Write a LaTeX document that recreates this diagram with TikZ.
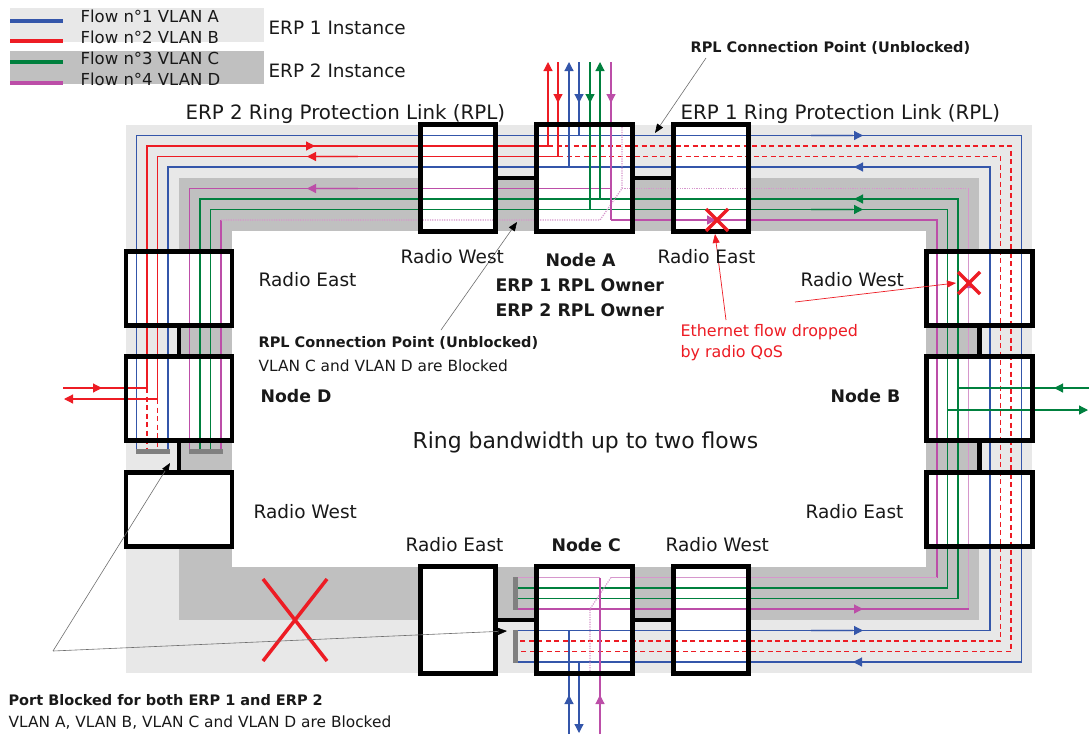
\documentclass[tikz,border=0pt]{standalone}
\usepackage{fontspec}
\setmainfont{DejaVu Sans}
\usetikzlibrary{arrows.meta}
\definecolor{flowblue}{RGB}{52,86,170}
\definecolor{flowred}{RGB}{237,28,36}
\definecolor{flowgreen}{RGB}{0,128,62}
\definecolor{flowmag}{RGB}{188,78,168}
\definecolor{flowpink}{RGB}{214,150,204}
\definecolor{erpone}{RGB}{232,232,232}
\definecolor{erptwo}{RGB}{192,192,192}
\definecolor{portgray}{RGB}{128,128,128}
\definecolor{notegray}{RGB}{110,110,110}
\definecolor{ink}{RGB}{25,25,25}

\begin{document}
\begin{tikzpicture}[x=1pt,y=-1pt,line width=1.2pt,
  ringbox/.style 2 args={fill=white,inner sep=0pt,minimum width=#1,minimum height=#2},
  boxedge/.style={draw=black,line width=4.5pt},
  linkbar/.style={draw=black,line width=4.5pt},
  head/.style={-{Triangle[length=9pt,width=9pt]}},
  tail/.style={line width=2.2pt,opacity=.2},
  dashedred/.style={flowred,dash pattern=on 5pt off 3.5pt},
  dotpink/.style={flowpink,dash pattern=on 1.2pt off 1.2pt},
  notearrow/.style={notegray,line width=.6pt,-{Triangle[length=9pt,width=7pt,color=black]}},
  droparrow/.style={flowred,line width=.7pt,-{Triangle[length=9pt,width=7pt]}},
  redx/.style={flowred,line width=3.5pt},
  txt/.style={anchor=base west,inner sep=0pt,text=ink,font=\fontsize{#1}{#1}\selectfont},
  btxt/.style={anchor=base west,inner sep=0pt,text=ink,font=\fontsize{#1}{#1}\selectfont\bfseries}]
  \useasboundingbox (0,0) rectangle (1089,734);

  % legend
  \fill[erpone] (10,8) rectangle (264,42);
  \fill[erptwo] (10,51) rectangle (264,84);
  \draw[flowblue,line width=4pt] (10,20.5) -- (63,20.5);
  \draw[flowred,line width=4pt] (10,41) -- (63,41);
  \draw[flowgreen,line width=4pt] (10,62) -- (63,62);
  \draw[flowmag,line width=4pt] (10,83) -- (63,83);
  \node[txt=16.5] (legA) at (80,22) {Flow n°1 VLAN A};
  \node[txt=16.5] (legB) at (80,43) {Flow n°2 VLAN B};
  \node[txt=16.5] (legC) at (80,64) {Flow n°3 VLAN C};
  \node[txt=16.5] (legD) at (80,85) {Flow n°4 VLAN D};
  \node[txt=18.4] (inst1) at (268,34.7) {ERP 1 Instance};
  \node[txt=18.4] (inst2) at (268,77.7) {ERP 2 Instance};

  % ring bands
  \fill[erpone] (126,125) rectangle (1032,672.5);
  \fill[erptwo] (179,178) rectangle (979,619.5);
  \fill[white] (232,231) rectangle (926,566.5);

  % boxes
  \node[ringbox={73.5pt}{105.5pt}] (rwTop) at (458,178) {};
  \node[ringbox={94.5pt}{105.5pt}] (nodeA) at (584.5,178) {};
  \node[ringbox={73.5pt}{105.5pt}] (reTop) at (711,178) {};
  \node[ringbox={73.5pt}{105.5pt}] (reBot) at (458,620) {};
  \node[ringbox={94.5pt}{105.5pt}] (nodeC) at (584.5,620) {};
  \node[ringbox={73.5pt}{105.5pt}] (rwBot) at (711,620) {};
  \node[ringbox={104.5pt}{72.5pt}] (reLeft) at (179,288.5) {};
  \node[ringbox={104.5pt}{82.5pt}] (nodeD) at (179,398.5) {};
  \node[ringbox={104.5pt}{72.5pt}] (rwLeft) at (179,509.5) {};
  \node[ringbox={104.5pt}{72.5pt}] (rwRight) at (979.5,288.5) {};
  \node[ringbox={104.5pt}{82.5pt}] (nodeB) at (979.5,398.5) {};
  \node[ringbox={104.5pt}{72.5pt}] (reRight) at (979.5,509.5) {};
  \draw[linkbar] (rwTop.east) -- (nodeA.west);
  \draw[linkbar] (nodeA.east) -- (reTop.west);
  \draw[linkbar] (reBot.east) -- (nodeC.west);
  \draw[linkbar] (nodeC.east) -- (rwBot.west);
  \draw[linkbar] (reLeft.south) -- (nodeD.north);
  \draw[linkbar] (nodeD.south) -- (rwLeft.north);
  \draw[linkbar] (rwRight.south) -- (nodeB.north);
  \draw[linkbar] (nodeB.south) -- (reRight.north);

  % blocked ports
  \fill[portgray] (136,449) rectangle (169.5,453.5);
  \fill[portgray] (189,449) rectangle (222.5,453.5);
  \fill[portgray] (513,577) rectangle (518,609.5);
  \fill[portgray] (513,630) rectangle (518,662.5);

  % ERP 1 ring, flows 1 and 2
  \draw[flowblue] (136.5,449) |- (1021.5,135.5) |- (518,662);
  \draw[flowblue] (168,449) |- (990,167) |- (518,630.5);
  \draw[flowred] (147,388) |- (548,146);
  \draw[dashedred] (548,146) -| (1011,651.5) -- (518,651.5);
  \draw[dashedred] (147,388) -- (147,449);
  \draw[flowred] (157.5,399) |- (558,156.5);
  \draw[dashedred] (558,156.5) -| (1000.5,641) -- (518,641);
  \draw[dashedred] (157.5,399) -- (157.5,449);

  % ERP 2 ring, flows 3 and 4
  \draw[flowgreen] (200,449) |- (958,199) |- (518,598.5);
  \draw[flowgreen] (210.5,449) |- (947.5,209.5) |- (518,588);
  \draw[flowmag] (189.5,449) |- (611,188.5);
  \draw[dotpink] (622,188.5) -- (968.5,188.5);
  \draw[flowpink] (968.5,188.5) -- (968.5,609);
  \draw[flowmag] (968.5,609) -- (518,609);
  \draw[flowmag] (221,449) -- (221,220);
  \draw[dotpink] (221,220) -- (600,220) -- (622,188.5) -- (622,127);
  \draw[flowmag] (611,220) -| (937,577.5);
  \draw[flowpink] (937,577.5) -- (611,577.5);
  \draw[flowpink] (600,577.5) -- (518,577.5);
  \draw[dotpink] (611,577.5) -- (590,609) -- (590,672);

  % drops and adds at the nodes
  \draw[flowred,head] (548,146) -- (548,62);
  \draw[flowred] (558,62) -- (558,156.5);
  \draw[flowblue,head] (569,167) -- (569,62);
  \draw[flowblue] (579,62) -- (579,135.5);
  \draw[flowgreen] (590,62) -- (590,209.5);
  \draw[flowgreen,head] (600,199) -- (600,62);
  \draw[flowmag] (611,62) -- (611,220);
  \draw[flowblue] (569,734) -- (569,630.5);
  \draw[flowblue,head] (579,662) -- (579,733);
  \draw[flowmag] (600,734) -- (600,577.5);
  \draw[flowred] (147,388) -- (63,388);
  \draw[flowred,head] (157.5,399) -- (64,399);
  \draw[flowgreen] (958,388) -- (1089,388);
  \draw[flowgreen,head] (947.5,410) -- (1088,410);

  \foreach \b in {rwTop,nodeA,reTop,reBot,nodeC,rwBot,reLeft,nodeD,rwLeft,rwRight,nodeB,reRight}
    \draw[boxedge] (\b.north west) rectangle (\b.south east);

  % flow direction
  \draw[flowred,tail] (263,146) -- (306,146);
  \draw[flowred,tail] (316,156.5) -- (358,156.5);
  \draw[flowmag,tail] (316,188.5) -- (358,188.5);
  \draw[flowblue,tail] (811,135.5) -- (853,135.5);
  \draw[flowblue,tail] (863,167) -- (906,167);
  \draw[flowgreen,tail] (863,199) -- (906,199);
  \draw[flowgreen,tail] (811,209.5) -- (853,209.5);
  \draw[flowmag,tail] (811,609) -- (853,609);
  \draw[flowblue,tail] (811,630.5) -- (853,630.5);
  \draw[flowblue,tail] (862,662) -- (905,662);
  \draw[flowred,tail] (63,388) -- (93,388);
  \draw[flowgreen,tail] (1063,388) -- (1089,388);
  \draw[flowgreen,tail] (1040,410) -- (1079,410);
  \draw[flowred,head] (314,146) -- (315,146);
  \draw[flowred,head] (308,156.5) -- (307,156.5);
  \draw[flowmag,head] (308,188.5) -- (307,188.5);
  \draw[flowblue,head] (862,135.5) -- (863,135.5);
  \draw[flowblue,head] (855,167) -- (854,167);
  \draw[flowgreen,head] (855,199) -- (854,199);
  \draw[flowgreen,head] (862,209.5) -- (863,209.5);
  \draw[flowmag,head] (862,609) -- (863,609);
  \draw[flowblue,head] (862,630.5) -- (863,630.5);
  \draw[flowblue,head] (854,662) -- (853,662);
  \draw[flowred,head] (558,102) -- (558,103);
  \draw[flowblue,head] (579,102) -- (579,103);
  \draw[flowgreen,head] (590,102) -- (590,103);
  \draw[flowmag,head] (611,102) -- (611,103);
  \draw[flowblue,head] (569,696) -- (569,695);
  \draw[flowmag,head] (600,696) -- (600,695);
  \draw[flowred,head] (101,388) -- (102,388);
  \draw[flowgreen,head] (1055,388) -- (1054,388);
  \draw[flowmag,head] (715,220) -- (716,220);
  \draw[flowmag,head] (968.5,280) -- (968.5,279);

  % dropped by QoS and blocked
  \draw[redx] (706,209) -- (728,231) (706,231) -- (728,209);
  \draw[redx] (958,272) -- (980,294) (958,294) -- (980,272);
  \draw[redx] (263,579) -- (327,661) (263,661) -- (327,579);
  \coordinate (dropnote) at (726,320);
  \draw[droparrow] (dropnote) -- (715,234);
  \draw[droparrow] (795,302) -- (956,283);

  % notes
  \coordinate (portnote) at (53,651);
  \draw[notearrow] (706,58) -- (655,133);
  \draw[notearrow] (441,330) -- (517,222);
  \draw[notearrow] (portnote) -- (170,463);
  \draw[notearrow] (portnote) -- (507,631);

  % labels
  \node[txt=19.8] (rplTwo) at (185,119) {ERP 2 Ring Protection Link (RPL)};
  \node[txt=19.8] (rplOne) at (680,119) {ERP 1 Ring Protection Link (RPL)};
  \node[btxt=14.5] (cpTop) at (690,52) {RPL Connection Point (Unblocked)};
  \node[btxt=14.5] (cpLeft) at (258,347) {RPL Connection Point (Unblocked)};
  \node[txt=15.4] (cpLeftB) at (258,371.6) {VLAN C and VLAN D are Blocked};
  \node[btxt=14.5] (portA) at (8,705) {Port Blocked for both ERP 1 and ERP 2};
  \node[txt=15.4] (portB) at (8,727.6) {VLAN A, VLAN B, VLAN C and VLAN D are Blocked};
  \node[txt=18.5] (lrwTop) at (400,263.8) {Radio West};
  \node[btxt=17.3] (lnodeA) at (545,266.3) {Node A};
  \node[btxt=17.3] (lownA) at (495,291.3) {ERP 1 RPL Owner};
  \node[btxt=17.3] (lownB) at (495,316.3) {ERP 2 RPL Owner};
  \node[txt=18.5] (lreTop) at (657,263.8) {Radio East};
  \node[txt=18.5] (lreLeft) at (258,286.8) {Radio East};
  \node[txt=18.5] (lrwRight) at (800,286.8) {Radio West};
  \node[btxt=17.3] (lnodeD) at (260,402.3) {Node D};
  \node[btxt=17.3] (lnodeB) at (830,402.3) {Node B};
  \node[txt=21.9] (lring) at (412,448) {Ring bandwidth up to two flows};
  \node[txt=18.5] (lrwLeft) at (253,518.8) {Radio West};
  \node[txt=18.5] (lreRight) at (805,518.8) {Radio East};
  \node[txt=18.5] (lreBot) at (405,551.8) {Radio East};
  \node[btxt=17.3] (lnodeC) at (551,551.3) {Node C};
  \node[txt=18.5] (lrwBot) at (665,551.8) {Radio West};
  \node[txt=15.9,text=flowred] (ldropA) at (680,336.8) {Ethernet flow dropped};
  \node[txt=15.9,text=flowred] (ldropB) at (680,357.8) {by radio QoS};
\end{tikzpicture}
\end{document}
